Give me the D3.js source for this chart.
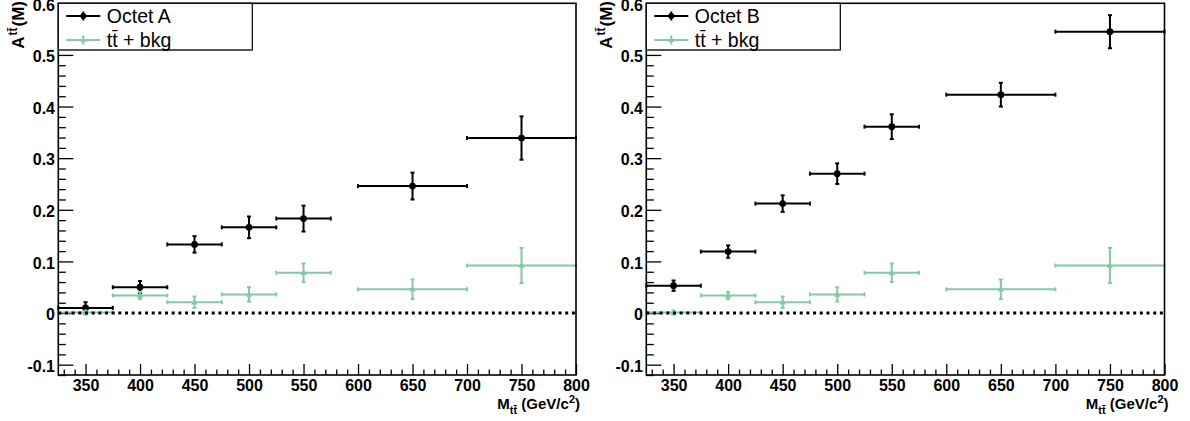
<!DOCTYPE html>
<html><head><meta charset="utf-8">
<script src="https://cdn.jsdelivr.net/npm/d3@7/dist/d3.min.js"></script>
<style>
html,body{margin:0;padding:0;background:#fff;}
svg{display:block;}
text{font-family:"Liberation Sans",Arial,sans-serif;}
</style></head>
<body>
<svg id="c" width="1190" height="421"></svg>
<script>
// ---- data ----
const binCenters = [350, 400, 450, 500, 550, 650, 750];
const binLow     = [325, 375, 425, 475, 525, 600, 700];
const binHigh    = [375, 425, 475, 525, 575, 700, 800];
const octetA     = [0.010, 0.050, 0.133, 0.166, 0.183, 0.246, 0.339];
const octetAErr  = [0.011, 0.012, 0.016, 0.021, 0.025, 0.026, 0.042];
const octetB     = [0.053, 0.119, 0.212, 0.270, 0.361, 0.423, 0.545];
const octetBErr  = [0.010, 0.012, 0.016, 0.020, 0.024, 0.023, 0.032];
const bkg        = [0.001, 0.034, 0.021, 0.036, 0.078, 0.046, 0.092];
const bkgErr     = [0.004, 0.007, 0.011, 0.014, 0.018, 0.019, 0.034];
const xMajorTicks = [350, 400, 450, 500, 550, 600, 650, 700, 750, 800];
const yMajorTicks = [-0.1, 0, 0.1, 0.2, 0.3, 0.4, 0.5, 0.6];
const panelNames = ["Octet A", "Octet B"];
const bkgName = "tt\u0304 + bkg";

const svg = d3.select("#c");
const GREEN = "#86c8a5";
const frameTop = 3.3, frameBottom = 375;
const panels = [
  {left: 58.3, right: 576, name: panelNames[0], v: octetA, e: octetAErr},
  {left: 646.3, right: 1164.5, name: panelNames[1], v: octetB, e: octetBErr}
];

const xMinor = d3.range(330, 801, 10).filter(d => !xMajorTicks.includes(d));
const yMinor = d3.range(-12, 61, 2).map(d => d / 100).filter(d => !yMajorTicks.some(t => Math.abs(t - d) < 1e-9));
const fmtY = d => d === 0 ? "0" : String(+d.toFixed(1));

panels.forEach(p => {
  const g = svg.append("g");
  const x = d3.scaleLinear().domain([325, 800]).range([p.left, p.right]);
  const y = d3.scaleLinear().domain([-0.12, 0.6]).range([frameBottom, frameTop]);

  // axes
  const gx1 = g.append("g").attr("transform", `translate(0,${frameBottom})`)
    .call(d3.axisBottom(x).tickValues(xMinor).tickSize(-5.5).tickFormat(""));
  const gx2 = g.append("g").attr("transform", `translate(0,${frameBottom})`)
    .call(d3.axisBottom(x).tickValues(xMajorTicks).tickSize(-11).tickPadding(5).tickFormat(d3.format("d")));
  const gy1 = g.append("g").attr("transform", `translate(${p.left},0)`)
    .call(d3.axisLeft(y).tickValues(yMinor).tickSize(-7.5).tickFormat(""));
  const gy2 = g.append("g").attr("transform", `translate(${p.left},0)`)
    .call(d3.axisLeft(y).tickValues(yMajorTicks).tickSize(-15).tickPadding(3.3).tickFormat(fmtY));
  [gx1, gx2, gy1, gy2].forEach(a => {
    a.select(".domain").remove();
    a.selectAll(".tick line").attr("stroke", "#000").attr("stroke-width", 1.3);
    a.selectAll(".tick text").attr("fill", "#000").attr("font-size", 16).attr("font-weight", "bold")
      .attr("font-family", '"Liberation Sans",Arial,sans-serif');
  });
  gy2.selectAll(".tick text").attr("dy", "0.42em");

  // error-bar drawing
  function drawSeries(vals, errs, color, marker) {
    const s = g.append("g").attr("stroke", color).attr("stroke-width", 2).attr("fill", "none");
    vals.forEach((v, i) => {
      const yc = y(v), xl = x(binLow[i]), xh = x(binHigh[i]), xc = x(binCenters[i]);
      const yt = y(v + errs[i]), yb = y(v - errs[i]);
      s.append("line").attr("x1", xl).attr("x2", xh).attr("y1", yc).attr("y2", yc);
      s.append("line").attr("x1", xl).attr("x2", xl).attr("y1", yc - 2).attr("y2", yc + 2);
      s.append("line").attr("x1", xh).attr("x2", xh).attr("y1", yc - 2).attr("y2", yc + 2);
      s.append("line").attr("x1", xc).attr("x2", xc).attr("y1", yt).attr("y2", yb);
      s.append("line").attr("x1", xc - 2).attr("x2", xc + 2).attr("y1", yt).attr("y2", yt);
      s.append("line").attr("x1", xc - 2).attr("x2", xc + 2).attr("y1", yb).attr("y2", yb);
      if (marker === "circle") {
        s.append("circle").attr("cx", xc).attr("cy", yc).attr("r", 3.4).attr("fill", color).attr("stroke", "none");
      } else {
        s.append("path").attr("d", `M${xc - 3.2},${yc + 2.2}L${xc + 3.2},${yc + 2.2}L${xc},${yc - 3.4}Z`)
          .attr("fill", color).attr("stroke", "none");
      }
    });
  }
  drawSeries(p.v, p.e, "#000", "circle");
  drawSeries(bkg, bkgErr, GREEN, "triangle");

  // zero dotted line
  g.append("line").attr("x1", p.left).attr("x2", p.right).attr("y1", y(0)).attr("y2", y(0))
    .attr("stroke", "#000").attr("stroke-width", 3).attr("stroke-dasharray", "3,3.67");

  // frame
  g.append("rect").attr("x", p.left).attr("y", frameTop).attr("width", p.right - p.left).attr("height", frameBottom - frameTop)
    .attr("fill", "none").attr("stroke", "#000").attr("stroke-width", 1.6);

  // legend
  const lg = g.append("g");
  lg.append("rect").attr("x", p.left).attr("y", frameTop).attr("width", 194).attr("height", 46.7)
    .attr("fill", "#fff").attr("stroke", "#000").attr("stroke-width", 1.2);
  lg.append("line").attr("x1", p.left).attr("x2", p.left + 194).attr("y1", frameTop + 46.7).attr("y2", frameTop + 46.7)
    .attr("stroke", "#555").attr("stroke-width", 2);
  const entries = [
    {label: p.name, color: "#000", cy: 16, m: "circle"},
    {label: bkgName, color: GREEN, cy: 40, m: "triangle"}
  ];
  entries.forEach(en => {
    const x0 = p.left + 8, x1 = p.left + 42, xm = (x0 + x1) / 2;
    lg.append("line").attr("x1", x0).attr("x2", x1).attr("y1", en.cy).attr("y2", en.cy)
      .attr("stroke", en.color).attr("stroke-width", 2);
    lg.append("line").attr("x1", xm).attr("x2", xm).attr("y1", en.cy - 4.5).attr("y2", en.cy + 4.5)
      .attr("stroke", en.color).attr("stroke-width", 2);
    if (en.m === "circle") lg.append("circle").attr("cx", xm).attr("cy", en.cy).attr("r", 3).attr("fill", en.color);
    else lg.append("path").attr("d", `M${xm - 3},${en.cy + 2}L${xm + 3},${en.cy + 2}L${xm},${en.cy - 3}Z`).attr("fill", en.color);
    lg.append("text").attr("x", p.left + 48.5).attr("y", en.cy + 6.8).attr("font-size", 19.5)
      .attr("fill", "#000").text(en.label);
  });

  // y-axis title
  const yt = g.append("text").attr("transform", `translate(${p.left - 34.5},1) rotate(-90)`)
    .attr("text-anchor", "end").attr("font-size", 17).attr("font-weight", "bold").attr("fill", "#000");
  yt.append("tspan").text("A");
  yt.append("tspan").attr("dy", -7).attr("dx", 1).attr("font-size", 12).text("tt\u0304");
  yt.append("tspan").attr("dy", 7).attr("dx", 1).text("(M)");

  // x-axis title
  const xt = g.append("text").attr("x", p.right + 4).attr("y", 409).attr("text-anchor", "end")
    .attr("font-size", 15).attr("font-weight", "bold").attr("fill", "#000");
  xt.append("tspan").text("M");
  xt.append("tspan").attr("dy", 5).attr("font-size", 11).text("tt\u0304");
  xt.append("tspan").attr("dy", -5).text(" (GeV/c");
  xt.append("tspan").attr("dy", -6).attr("font-size", 11).text("2");
  xt.append("tspan").attr("dy", 6).text(")");
});
</script>
</body></html>
